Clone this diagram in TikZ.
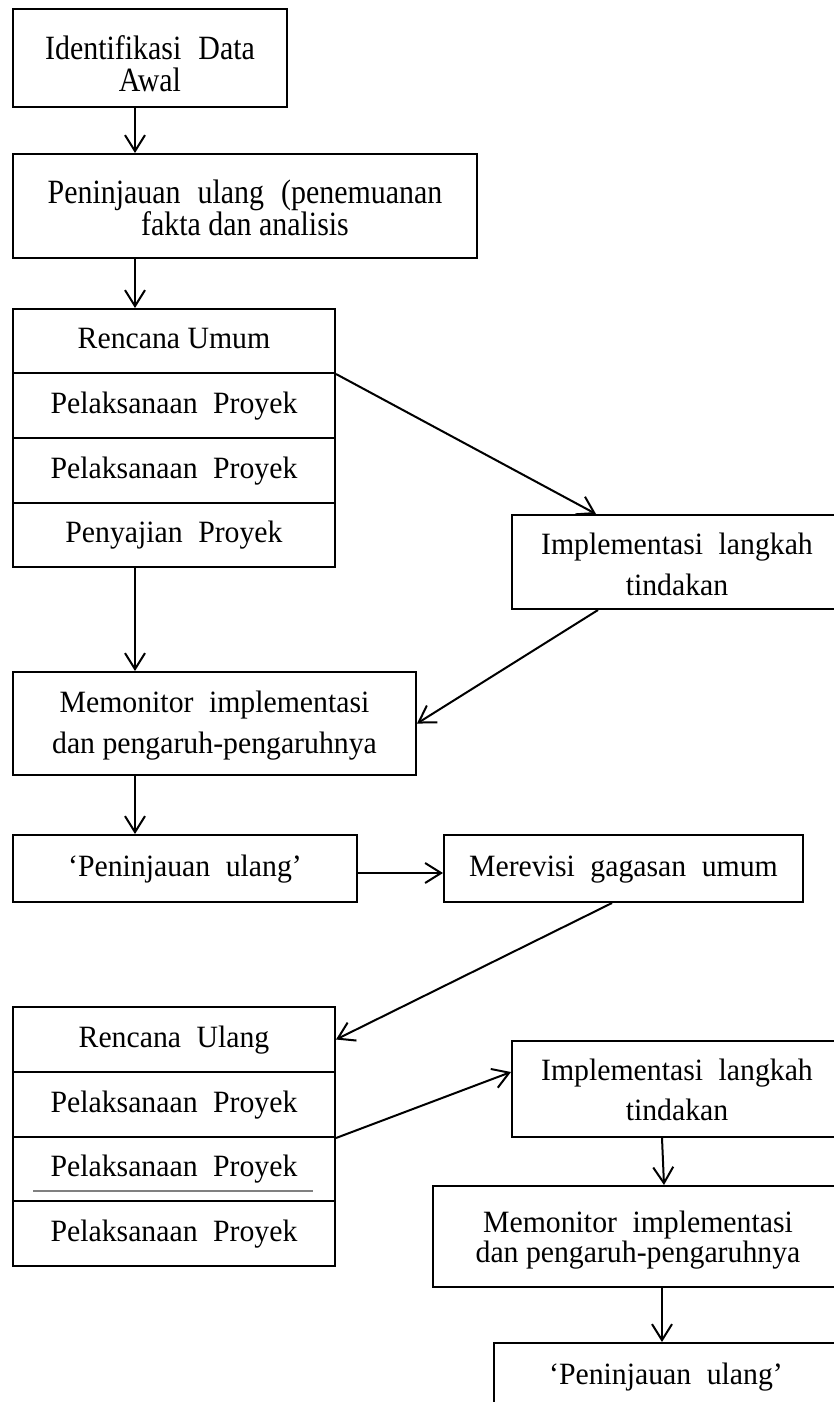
\documentclass[tikz,border=0pt]{standalone}
\usepackage{fontspec}
\setmainfont{Liberation Serif}[FakeStretch=0.96]
\newfontfamily\tallfont{Liberation Serif}[FakeStretch=0.88]
\usetikzlibrary{arrows.meta,calc}
\newcommand\WS{\hspace{0.5em}}
\newcommand\Hs[1]{\rule{0pt}{#1pt}}
\newcommand\Ds{\rule[-8pt]{0pt}{8pt}}
\tikzset{
  box/.style={draw, line width=2pt, inner sep=0pt, align=center, font=\fontsize{31}{36}\selectfont},
  lsp/.style={font=\fontsize{31}{#1}\selectfont},
  tall/.style={font=\tallfont\fontsize{34}{#1}\selectfont},
  sz/.style 2 args={minimum width=#1pt, minimum height=#2pt},
  arr/.style={line width=2pt, -{Straight Barb[length=16pt,width=20pt]}},
}
\begin{document}
\begin{tikzpicture}[x=1pt,y=-1pt]
\fill[white] (0,0) rectangle (834,1402);
\useasboundingbox (0,0) rectangle (834,1402);
% boxes
\node[box,sz={274}{98},tall=32] (B1) at (150,58) {\Hs{44}Identifikasi\WS Data\\Awal\Ds};
\node[box,sz={464}{104},tall=31] (B2) at (245,206) {\Hs{35}Peninjauan\WS ulang\WS (penemuanan\\fakta dan analisis\Ds};
\node[box,sz={322}{64}] (S1a) at (174,341) {\Hs{23}Rencana Umum\Ds};
\node[box,sz={322}{65}] (S1b) at (174,405.5) {\Hs{23}Pelaksanaan\WS Proyek\Ds};
\node[box,sz={322}{65}] (S1c) at (174,470.5) {\Hs{23}Pelaksanaan\WS Proyek\Ds};
\node[box,sz={322}{64}] (S1d) at (174,535) {\Hs{23}Penyajian\WS Proyek\Ds};
\node[box,sz={330}{94},lsp=41] (I1) at (677,562) {\Hs{33}Implementasi\WS langkah\\tindakan\Ds};
\node[box,sz={403}{103},lsp=41] (M1) at (214.5,723.5) {\Hs{26}Memonitor\WS implementasi\\dan pengaruh-pengaruhnya\Ds};
\node[box,sz={344}{67}] (P1) at (185,868.5) {\Hs{23}‘Peninjauan\WS ulang’\Ds};
\node[box,sz={359}{67}] (R1) at (623.5,868.5) {\Hs{23}Merevisi\WS gagasan\WS umum\Ds};
\node[box,sz={322}{65}] (S2a) at (174,1039.5) {\Hs{23}Rencana\WS Ulang\Ds};
\node[box,sz={322}{65}] (S2b) at (174,1104.5) {\Hs{23}Pelaksanaan\WS Proyek\Ds};
\node[box,sz={322}{64}] (S2c) at (174,1169) {\Hs{23}Pelaksanaan\WS Proyek\Ds};
\node[box,sz={322}{65}] (S2d) at (174,1233.5) {\Hs{23}Pelaksanaan\WS Proyek\Ds};
\node[box,sz={330}{96},lsp=40] (I2) at (677,1089) {\Hs{30}Implementasi\WS langkah\\tindakan\Ds};
\node[box,sz={410}{101},lsp=30] (M2) at (638,1236.5) {\Hs{29}Memonitor\WS implementasi\\dan pengaruh-pengaruhnya\Ds};
\node[box,sz={344}{67}] (P2) at (666,1376.5) {\Hs{23}‘Peninjauan\WS ulang’\Ds};
% underline in third cell
\draw[gray, line width=1.2pt] ($(S2c.south west)+(21,-11)$) -- ($(S2c.south east)+(-23,-11)$);
% connectors
\coordinate (a1) at ([xshift=-15pt]B1.south);
\draw[arr] (a1) -- (a1 |- B2.north);
\coordinate (a2) at ([xshift=-110pt]B2.south);
\draw[arr] (a2) -- (a2 |- S1a.north);
\draw[arr] (S1a.south east) -- ([xshift=-81pt]I1.north);
\coordinate (a4) at ([xshift=-39pt]S1d.south);
\draw[arr] (a4) -- (a4 |- M1.north);
\draw[arr] ([xshift=-79pt]I1.south) -- (M1.east);
\coordinate (a6) at ([xshift=-79.5pt]M1.south);
\draw[arr] (a6) -- (a6 |- P1.north);
\draw[arr] ([yshift=-4.5pt]P1.east) -- ([yshift=-4.5pt]R1.west);
\draw[arr] ([xshift=-11.5pt]R1.south) -- (S2a.east);
\draw[arr] (S2b.south east) -- ([yshift=17pt]I2.west);
\draw[arr] ([xshift=-15pt]I2.south) -- ([xshift=26pt]M2.north);
\coordinate (a11) at ([xshift=24pt]M2.south);
\draw[arr] (a11) -- (a11 |- P2.north);
\end{tikzpicture}
\end{document}
